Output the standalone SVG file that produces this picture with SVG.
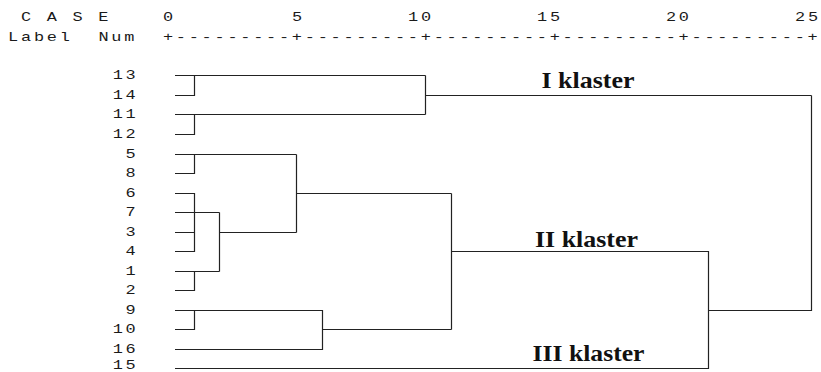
<svg xmlns="http://www.w3.org/2000/svg" width="821" height="372" viewBox="0 0 821 372">
<style>
.mono{font-family:"Liberation Mono","DejaVu Sans Mono",monospace;font-size:13px;fill:#1a1a1a;letter-spacing:2.123px}
.cl{font-family:"Liberation Serif","Times New Roman",serif;font-size:22.5px;font-weight:bold;fill:#111}
.ln{fill:none;stroke:#222;stroke-width:1.2}
</style>
<rect width="821" height="372" fill="#fff"/>
<g id="header" transform="scale(1.3 1)">
<text class="mono" x="16.18" y="20.7">C A S E</text>
<text class="mono" x="125.33" y="20.7">0</text>
<text class="mono" x="224.56" y="20.7">5</text>
<text class="mono" x="313.87" y="20.7">10</text>
<text class="mono" x="413.1" y="20.7">15</text>
<text class="mono" x="512.3" y="20.7">20</text>
<text class="mono" x="611.6" y="20.7">25</text>
<text class="mono" x="6.25" y="40.7">Label</text>
<text class="mono" x="75.7" y="40.7">Num</text>
<text class="mono" x="125.33" y="40.7">+---------+---------+---------+---------+---------+</text>
</g>
<g id="leaves" transform="scale(1.3 1)">
<g id="leaf-13"><text class="mono" x="86.7" y="79.3">13</text></g>
<g id="leaf-14"><text class="mono" x="86.7" y="99.3">14</text></g>
<g id="leaf-11"><text class="mono" x="86.7" y="118.3">11</text></g>
<g id="leaf-12"><text class="mono" x="86.7" y="138.3">12</text></g>
<g id="leaf-5"><text class="mono" x="96.6" y="158.3">5</text></g>
<g id="leaf-8"><text class="mono" x="96.6" y="177.3">8</text></g>
<g id="leaf-6"><text class="mono" x="96.6" y="197.3">6</text></g>
<g id="leaf-7"><text class="mono" x="96.6" y="216.3">7</text></g>
<g id="leaf-3"><text class="mono" x="96.6" y="236.3">3</text></g>
<g id="leaf-4"><text class="mono" x="96.6" y="255.3">4</text></g>
<g id="leaf-1"><text class="mono" x="96.6" y="275.3">1</text></g>
<g id="leaf-2"><text class="mono" x="96.6" y="294.3">2</text></g>
<g id="leaf-9"><text class="mono" x="96.6" y="314.3">9</text></g>
<g id="leaf-10"><text class="mono" x="86.7" y="333.3">10</text></g>
<g id="leaf-16"><text class="mono" x="86.7" y="353.3">16</text></g>
<g id="leaf-15"><text class="mono" x="86.7" y="369">15</text></g>
</g>
<g id="connectors" class="ln">
<path d="M175 75.5H194.5V95.5H175M194.5 75.5H425.5"/>
<path d="M175 114.5H194.5V134.5H175M194.5 114.5H425.5"/>
<path d="M425.5 75.5V114.5M425.5 95.5H811.5"/>
<path d="M175 154.5H194.5V173.5H175M194.5 154.5H296.5"/>
<path d="M175 193.5H194.5V251.5H175M175 212.5H219.5M175 232.5H194.5"/>
<path d="M175 271.5H219.5M194.5 271.5V290.5H175"/>
<path d="M219.5 212.5V271.5M219.5 232.5H296.5"/>
<path d="M296.5 154.5V232.5M296.5 193.5H451.5"/>
<path d="M175 310.5H322.5V349.5H175M194.5 310.5V329.5H175M322.5 329.5H451.5"/>
<path d="M451.5 193.5V329.5M451.5 251.5H708.5V368.5H175"/>
<path d="M708.5 310.5H811.5V95.5"/>
</g>
<g id="cluster-labels">
<text class="cl" x="541.5" y="87.5" textLength="93" lengthAdjust="spacingAndGlyphs">I klaster</text>
<text class="cl" x="535" y="246.5" textLength="103" lengthAdjust="spacingAndGlyphs">II klaster</text>
<text class="cl" x="532.5" y="361" textLength="112" lengthAdjust="spacingAndGlyphs">III klaster</text>
</g>
</svg>
